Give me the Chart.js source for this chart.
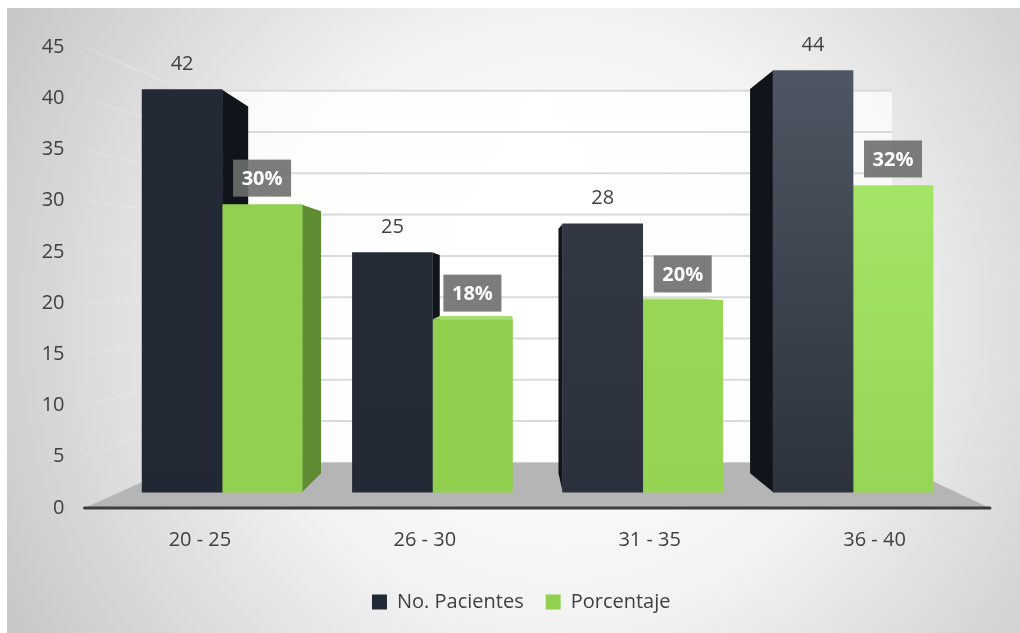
<!DOCTYPE html>
<html>
<head>
<meta charset="utf-8">
<script src="https://cdn.jsdelivr.net/npm/chart.js@4.4.1/dist/chart.umd.min.js"></script>
<style>
  html, body { margin: 0; padding: 0; background: #fff; }
  #chart { display: block; }
</style>
</head>
<body>
<canvas id="chart" width="1020" height="633"></canvas>
<script>
// Data
const categories = ['20 - 25', '26 - 30', '31 - 35', '36 - 40'];
const pacientes = [42, 25, 28, 44];
const porcentaje = [30, 18, 20, 32];
const yTicks = [0, 5, 10, 15, 20, 25, 30, 35, 40, 45];

// Fake 3D look: everything recedes toward one vanishing point
const VP = { x: 515, y: 279 };
const DEPTH = 0.089;
const FONT = '"Open Sans", "Noto Sans", sans-serif';
const TEXT = '#404040';
const LEGEND_SHIFT = 24;

function back(px, py) {
    return [px + DEPTH * (VP.x - px), py + DEPTH * (VP.y - py)];
}

function poly(ctx, pts, fill) {
    ctx.beginPath();
    ctx.moveTo(pts[0][0], pts[0][1]);
    for (let i = 1; i < pts.length; i++) ctx.lineTo(pts[i][0], pts[i][1]);
    ctx.closePath();
    ctx.fillStyle = fill;
    ctx.fill();
}

// vertical gradient per bar, lighter toward the right of the chart
function barFill(tops, bottoms) {
    return (c) => {
        const area = c.chart.chartArea;
        if (!area) return tops[c.dataIndex];
        const g = c.chart.ctx.createLinearGradient(0, area.top, 0, area.bottom);
        g.addColorStop(0, tops[c.dataIndex]);
        g.addColorStop(1, bottoms[c.dataIndex]);
        return g;
    };
}

// Background, floor, walls and the gridlines on the back wall
const stage = {
    id: 'stage',
    afterLayout(chart) {
        // legend sits a little right of the plot centre
        chart.legend.left += LEGEND_SHIFT;
        chart.legend.right += LEGEND_SHIFT;
    },
    beforeDraw(chart) {
        const { ctx, width, height } = chart;
        ctx.save();
        ctx.fillStyle = '#ffffff';
        ctx.fillRect(0, 0, width, height);
        const g = ctx.createRadialGradient(560, 320, 20, 560, 320, 640);
        g.addColorStop(0, '#ffffff');
        g.addColorStop(0.45, '#f3f3f3');
        g.addColorStop(1, '#c6c6c6');
        ctx.fillStyle = g;
        ctx.fillRect(7, 8, width - 7, height - 8);
        ctx.restore();
    },
    beforeDatasetsDraw(chart) {
        const { ctx, chartArea } = chart;
        const yFront = chart.scales.y;
        const yWall = chart.scales.yWall;
        const wallL = chartArea.left + 99;
        const wallR = chartArea.right - 95;
        const floorY = yWall.getPixelForValue(0);
        const topY = yWall.getPixelForValue(45);

        ctx.save();
        // floor
        poly(ctx, [
            [chartArea.left - 3, chartArea.bottom],
            [chartArea.right + 3, chartArea.bottom],
            [wallR, floorY],
            [wallL, floorY]
        ], '#b5b5b5');

        // back wall
        const wg = ctx.createLinearGradient(wallL, 0, wallR, 0);
        wg.addColorStop(0, 'rgba(255,255,255,0.75)');
        wg.addColorStop(0.5, 'rgba(255,255,255,0.95)');
        wg.addColorStop(1, 'rgba(255,255,255,0.7)');
        ctx.fillStyle = wg;
        ctx.fillRect(wallL, topY, wallR - wallL, floorY - topY);

        // gridlines on back wall and left wall
        ctx.lineWidth = 2;
        yTicks.forEach(v => {
            if (v === 0) return;
            const yb = yWall.getPixelForValue(v);
            ctx.strokeStyle = '#dadada';
            ctx.beginPath();
            ctx.moveTo(wallL, yb);
            ctx.lineTo(wallR, yb);
            ctx.stroke();
            const lg = ctx.createLinearGradient(chartArea.left - 4, 0, wallL, 0);
            lg.addColorStop(0, 'rgba(236,236,236,0.15)');
            lg.addColorStop(1, 'rgba(228,228,228,0.7)');
            ctx.strokeStyle = lg;
            ctx.beginPath();
            ctx.moveTo(chartArea.left - 4, yFront.getPixelForValue(v));
            ctx.lineTo(wallL, yb);
            ctx.stroke();
        });

        // axis line along the front of the floor
        ctx.strokeStyle = '#3d3d3d';
        ctx.lineWidth = 3;
        ctx.lineCap = 'round';
        ctx.beginPath();
        ctx.moveTo(chartArea.left - 3, chartArea.bottom);
        ctx.lineTo(chartArea.right + 3, chartArea.bottom);
        ctx.stroke();
        ctx.restore();
    }
};

// Side and top faces of each bar, drawn before the front faces
const barDepth = {
    id: 'barDepth',
    beforeDatasetsDraw(chart) {
        const ctx = chart.ctx;
        ctx.save();
        chart.data.datasets.forEach((ds, di) => {
            chart.getDatasetMeta(di).data.forEach(bar => {
                const l = bar.x - bar.width / 2;
                const r = bar.x + bar.width / 2;
                const t = bar.y;
                const b = bar.base;
                const edge = r < VP.x ? r : (l > VP.x ? l : null);
                if (edge !== null) {
                    poly(ctx, [[edge, t], back(edge, t), back(edge, b), [edge, b]], ds.sideColor);
                }
                if (t > VP.y) {
                    poly(ctx, [[l, t], [r, t], back(r, t), back(l, t)], ds.topColor);
                }
            });
        });
        ctx.restore();
    }
};

// Value labels: plain numbers for patients, boxed percentages
const valueLabels = {
    id: 'valueLabels',
    afterDatasetsDraw(chart) {
        const ctx = chart.ctx;
        ctx.save();
        ctx.textAlign = 'center';
        ctx.textBaseline = 'middle';
        chart.getDatasetMeta(0).data.forEach((bar, i) => {
            ctx.font = '20px ' + FONT;
            ctx.fillStyle = TEXT;
            ctx.fillText(String(pacientes[i]), bar.x, bar.y - 25);
        });
        chart.getDatasetMeta(1).data.forEach((bar, i) => {
            const w = 58, h = 37;
            const cy = bar.y - 8 - h / 2;
            ctx.fillStyle = 'rgba(110,110,110,0.9)';
            ctx.fillRect(bar.x - w / 2, cy - h / 2, w, h);
            ctx.font = 'bold 20px ' + FONT;
            ctx.fillStyle = '#ffffff';
            ctx.fillText(porcentaje[i] + '%', bar.x, cy + 1);
        });
        ctx.restore();
    }
};

new Chart(document.getElementById('chart'), {
    type: 'bar',
    data: {
        labels: categories,
        datasets: [
            {
                label: 'No. Pacientes',
                data: pacientes.map((v, i) => ({ x: i, y: v })),
                backgroundColor: barFill(['#232a35', '#252c37', '#363d48', '#4f5864'],
                                         ['#212833', '#232a35', '#2a313c', '#2a313b']),
                sideColor: '#10151c',
                topColor: '#3a424d',
                legendColor: '#222a35',
                xAxisID: 'xBar',
                yAxisID: 'yBar'
            },
            {
                label: 'Porcentaje',
                data: porcentaje.map((v, i) => ({ x: i, y: v })),
                backgroundColor: barFill(['#92d050', '#92d050', '#9cdb5a', '#abeb6d'],
                                         ['#92d050', '#90cf4e', '#95d452', '#95d454']),
                sideColor: '#5f8b32',
                topColor: '#a9df72',
                legendColor: '#92d050',
                xAxisID: 'xBar',
                yAxisID: 'yBar'
            }
        ]
    },
    options: {
        responsive: false,
        animation: false,
        barThickness: 80,
        layout: { padding: { left: 7.5, right: 33, top: 47, bottom: 11 } },
        scales: {
            x: {
                type: 'category',
                offset: true,
                grid: { display: false, drawTicks: false },
                border: { display: false },
                ticks: { color: TEXT, font: { family: FONT, size: 20 }, padding: 20 },
                afterFit: s => { s.height = 62; }
            },
            xBar: {
                type: 'linear',
                display: false,
                offset: false,
                min: -0.64,
                max: 3.637
            },
            y: {
                min: 0,
                max: 45,
                grid: { display: false, drawTicks: false },
                border: { display: false },
                afterBuildTicks: s => { s.ticks = yTicks.map(v => ({ value: v })); },
                ticks: { color: TEXT, font: { family: FONT, size: 20 }, padding: 23 },
                afterFit: s => { s.width = 80; }
            },
            yBar: { display: false, min: -1.66, max: 46.45 },
            yWall: { display: false, min: -5.55, max: 50.31 }
        },
        plugins: {
            legend: {
                position: 'bottom',
                labels: {
                    color: TEXT,
                    font: { family: FONT, size: 20 },
                    boxWidth: 15,
                    boxHeight: 15,
                    padding: 22,
                    generateLabels: chart => chart.data.datasets.map((ds, i) => ({
                        text: ds.label,
                        fillStyle: ds.legendColor,
                        strokeStyle: ds.legendColor,
                        lineWidth: 0,
                        hidden: false,
                        datasetIndex: i,
                        fontColor: TEXT
                    }))
                }
            },
            tooltip: { enabled: false }
        }
    },
    plugins: [stage, barDepth, valueLabels]
});
</script>
</body>
</html>
